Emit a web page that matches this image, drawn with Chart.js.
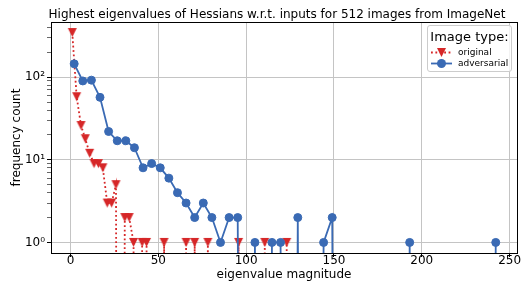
<!DOCTYPE html>
<html>
<head>
<meta charset="utf-8">
<script src="https://cdn.jsdelivr.net/npm/chart.js@4.4.1/dist/chart.umd.min.js"></script>
<style>
  html, body { margin: 0; padding: 0; background: #ffffff; }
  #wrap { width: 529px; height: 287px; }
</style>
</head>
<body>
<div id="wrap"><canvas id="c" width="529" height="287"></canvas></div>
<script>
// ---- text ----
const titleText = "Highest eigenvalues of Hessians w.r.t. inputs for 512 images from ImageNet";
const xAxisLabel = "eigenvalue magnitude";
const yAxisLabel = "frequency count";
const legendTitle = "Image type:";
const seriesNames = ["original", "adversarial"];

// ---- data (histogram bin positions and counts) ----
const originalX = [1.0, 3.5, 6.0, 8.4, 10.9, 13.4, 15.9, 18.4, 20.9, 23.4,
  25.9, 28.4, 30.9, 33.4, 35.9, 38.3, 40.8, 43.3, 45.8, 48.3,
  50.8, 53.3, 55.8, 58.3, 60.8, 63.3, 65.8, 68.3, 70.7, 73.2,
  75.7, 78.2, 80.7, 83.2, 85.7, 88.2, 90.7, 93.2, 95.7, 98.2,
  100.7, 103.1, 105.6, 108.1, 110.6, 113.1, 115.6, 118.1, 120.6, 123.1];
const originalCounts = [347, 58, 26, 18, 12, 9, 9, 8, 3, 3,
  5, 0, 2, 2, 1, 0, 1, 1, 0, 0,
  0, 1, 0, 0, 0, 0, 1, 0, 1, 0,
  0, 1, 0, 0, 0, 0, 0, 0, 1, 0,
  0, 0, 0, 0, 1, 0, 0, 0, 0, 1];

const adversarialX = [2.1, 7.0, 11.9, 16.8, 21.7, 26.6, 31.5, 36.4, 41.3, 46.2,
  51.1, 56.0, 60.9, 65.8, 70.7, 75.6, 80.5, 85.4, 90.3, 95.2,
  100.1, 105.0, 109.8, 114.7, 119.6, 124.5, 129.4, 134.3, 139.2, 144.1,
  149.0, 153.9, 158.8, 163.7, 168.6, 173.5, 178.4, 183.3, 188.2, 193.1,
  198.0, 202.9, 207.8, 212.7, 217.6, 222.5, 227.4, 232.3, 237.2, 242.1];
const adversarialCounts = [145, 90, 92, 57, 22, 17, 17, 14, 8, 9,
  8, 6, 4, 3, 2, 3, 2, 1, 2, 2,
  0, 1, 0, 1, 1, 0, 2, 0, 0, 1,
  2, 0, 0, 0, 0, 0, 0, 0, 0, 1,
  0, 0, 0, 0, 0, 0, 0, 0, 0, 1];

// ---- ticks ----
const xTicks = [0, 50, 100, 150, 200, 250];
const yMajorTicks = [1, 10, 100];
const yTickLabels = ["10\u2070", "10\u00B9", "10\u00B2"];
const yMinorTicks = [2, 3, 4, 5, 6, 7, 8, 9, 20, 30, 40, 50, 60, 70, 80, 90, 200, 300, 400];

// ---- style ----
const RED = "#d62728";
const BLUE = "#3a6ab4";
const FONT = "'DejaVu Sans', sans-serif";

Chart.defaults.font.family = FONT;
Chart.defaults.color = "#000";

function makeTriangle(color) {
  const c = document.createElement("canvas");
  c.width = 11; c.height = 11;
  const g = c.getContext("2d");
  g.fillStyle = color;
  g.beginPath();
  g.moveTo(1, 1);
  g.lineTo(10, 1);
  g.lineTo(5.5, 10);
  g.closePath();
  g.fill();
  return c;
}
const triMarker = makeTriangle(RED);

// zero counts lie at -infinity on a log axis: draw them far below the axes (clipped)
function toPoints(xs, counts) {
  return xs.map((x, i) => ({ x: x, y: counts[i] > 0 ? counts[i] : 1e-20 }));
}

const yAllTicks = yMajorTicks.concat(yMinorTicks).sort((a, b) => a - b);

const framePlugin = {
  id: "frameAndLegend",
  afterLayout(chart) {
    const t = chart.titleBlock;
    if (t) { t.left = 277 - 240; t.right = 277 + 240; t.width = 480; }
  },
  afterDatasetsDraw(chart) {
    const a = chart.chartArea, ctx = chart.ctx;
    ctx.save();
    ctx.strokeStyle = "#000";
    ctx.lineWidth = 1;
    const l = Math.round(a.left), t = Math.round(a.top), r = Math.round(a.right), b = Math.round(a.bottom);
    ctx.strokeRect(l + 0.5, t + 0.5, r - l, b - t);
    ctx.restore();
  },
  afterDraw(chart) {
    const ctx = chart.ctx;
    const L = { left: 427.5, top: 25.5, right: 511.5, bottom: 71.5 };
    ctx.save();
    // box
    const rr = 2.5;
    ctx.beginPath();
    ctx.moveTo(L.left + rr, L.top);
    ctx.lineTo(L.right - rr, L.top);
    ctx.quadraticCurveTo(L.right, L.top, L.right, L.top + rr);
    ctx.lineTo(L.right, L.bottom - rr);
    ctx.quadraticCurveTo(L.right, L.bottom, L.right - rr, L.bottom);
    ctx.lineTo(L.left + rr, L.bottom);
    ctx.quadraticCurveTo(L.left, L.bottom, L.left, L.bottom - rr);
    ctx.lineTo(L.left, L.top + rr);
    ctx.quadraticCurveTo(L.left, L.top, L.left + rr, L.top);
    ctx.closePath();
    ctx.fillStyle = "rgba(255,255,255,0.8)";
    ctx.fill();
    ctx.strokeStyle = "#cccccc";
    ctx.lineWidth = 1;
    ctx.stroke();
    // title
    ctx.fillStyle = "#000";
    ctx.font = "13px " + FONT;
    ctx.textAlign = "center";
    ctx.textBaseline = "alphabetic";
    ctx.fillText(legendTitle, (L.left + L.right) / 2, 40.5);
    // entries
    const rows = [52.5, 63.5];
    const hx0 = 431, hx1 = 452, mx = 441.5;
    // original
    ctx.strokeStyle = RED;
    ctx.lineWidth = 1.8;
    ctx.setLineDash([1.8, 2.6]);
    ctx.beginPath(); ctx.moveTo(hx0, rows[0]); ctx.lineTo(hx1, rows[0]); ctx.stroke();
    ctx.setLineDash([]);
    ctx.drawImage(triMarker, mx - triMarker.width / 2, rows[0] - triMarker.height / 2);
    // adversarial
    ctx.strokeStyle = BLUE;
    ctx.beginPath(); ctx.moveTo(hx0, rows[1]); ctx.lineTo(hx1, rows[1]); ctx.stroke();
    ctx.fillStyle = BLUE;
    ctx.beginPath(); ctx.arc(mx, rows[1], 4.5, 0, Math.PI * 2); ctx.fill();
    // labels
    ctx.fillStyle = "#000";
    ctx.font = "9px " + FONT;
    ctx.textAlign = "left";
    ctx.textBaseline = "middle";
    ctx.fillText(seriesNames[0], 458, rows[0]);
    ctx.fillText(seriesNames[1], 458, rows[1]);
    ctx.restore();
  }
};

new Chart(document.getElementById("c"), {
  type: "line",
  data: {
    datasets: [
      {
        label: seriesNames[0],
        data: toPoints(originalX, originalCounts),
        borderColor: RED,
        backgroundColor: RED,
        borderWidth: 1.8,
        borderDash: [1.8, 2.6],
        pointStyle: triMarker,
        pointRadius: (c) => originalCounts[c.dataIndex] > 0 ? 4.5 : 0,
        pointHoverRadius: (c) => originalCounts[c.dataIndex] > 0 ? 4.5 : 0,
        tension: 0,
        fill: false,
        clip: 0,
        order: 1
      },
      {
        label: seriesNames[1],
        data: toPoints(adversarialX, adversarialCounts),
        borderColor: BLUE,
        backgroundColor: BLUE,
        borderWidth: 1.8,
        pointStyle: "circle",
        pointRadius: (c) => adversarialCounts[c.dataIndex] > 0 ? 4 : 0,
        pointHoverRadius: (c) => adversarialCounts[c.dataIndex] > 0 ? 4 : 0,
        pointBorderWidth: 1,
        pointBorderColor: BLUE,
        pointBackgroundColor: BLUE,
        tension: 0,
        fill: false,
        clip: 0,
        order: 0
      }
    ]
  },
  options: {
    responsive: false,
    animation: false,
    devicePixelRatio: 1,
    events: [],
    layout: { padding: { left: 0, right: 12, top: 0, bottom: 0 } },
    plugins: {
      legend: { display: false },
      tooltip: { enabled: false },
      title: {
        display: true,
        text: titleText,
        color: "#000",
        font: { size: 12, weight: "normal", family: FONT },
        padding: { top: 7.6, bottom: 0 }
      }
    },
    scales: {
      x: {
        type: "linear",
        min: -11.1,
        max: 254.2,
        bounds: "data",
        afterBuildTicks: (s) => { s.ticks = xTicks.map((v) => ({ value: v })); },
        afterFit: (s) => { s.height = 34; },
        ticks: {
          autoSkip: false, maxRotation: 0, padding: -2, color: "#000",
          font: { size: 12, lineHeight: 1 },
          callback: (v) => String(v)
        },
        grid: { color: "#c4c4c4", lineWidth: 1, tickColor: "#000", tickLength: 4, drawTicks: true },
        border: { display: false },
        title: {
          display: true, text: xAxisLabel, color: "#000",
          font: { size: 12 }, padding: { top: 0, bottom: 5.4 }
        }
      },
      y: {
        type: "logarithmic",
        min: 0.745,
        max: 465,
        bounds: "data",
        afterBuildTicks: (s) => {
          s.ticks = yAllTicks.map((v) => ({ value: v, major: yMajorTicks.includes(v) }));
        },
        afterFit: (s) => { s.width = 51; },
        ticks: {
          autoSkip: false, padding: 2, color: "#000",
          font: { size: 12 },
          callback: (v) => {
            const i = yMajorTicks.indexOf(v);
            return i >= 0 ? yTickLabels[i] : "";
          }
        },
        grid: {
          color: (c) => (c.tick && yMajorTicks.includes(c.tick.value)) ? "#c4c4c4" : "rgba(0,0,0,0)",
          lineWidth: 1,
          tickColor: "#000",
          tickLength: 4,
          tickWidth: (c) => (c.tick && yMajorTicks.includes(c.tick.value)) ? 1 : 0.6
        },
        border: { display: false },
        title: {
          display: true, text: yAxisLabel, color: "#000",
          font: { size: 12 }, padding: { top: 10, bottom: 0 }
        }
      }
    }
  },
  plugins: [framePlugin]
});
</script>
</body>
</html>
